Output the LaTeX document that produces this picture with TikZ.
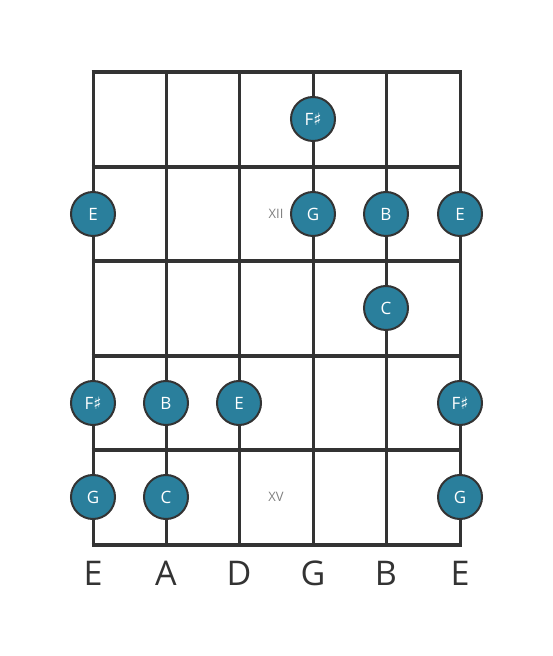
\documentclass[tikz,border=0pt]{standalone}
\usepackage{fontspec}
\setmainfont{Open Sans}
\newfontfamily\symfont{DejaVu Sans}
\definecolor{dotfill}{HTML}{2A7F9C}
\definecolor{ink}{HTML}{333333}
\newcommand{\shp}{{\symfont\char"266F}}
\tikzset{
  fretline/.style={line width=4.5pt,color=ink},
  stringline/.style={line width=3pt,color=ink},
  notedot/.style={circle,draw=ink,line width=2pt,fill=dotfill,minimum size=44pt,inner sep=0pt,
    text=white,font=\fontsize{17}{17}\selectfont},
  fretnum/.style={text=gray,font=\fontsize{13}{13}\selectfont},
  stringname/.style={text=ink,font=\fontsize{34}{34}\selectfont}
}
\begin{document}
\begin{tikzpicture}[x=1pt,y=1pt]
		\useasboundingbox (0,0) rectangle (553,656);
		% strings
		\draw[stringline] (93,584) -- (93,111);
		\draw[stringline] (166,584) -- (166,111);
		\draw[stringline] (239,584) -- (239,111);
		\draw[stringline] (313,584) -- (313,111);
		\draw[stringline] (386,584) -- (386,111);
		\draw[stringline] (460,584) -- (460,111);
		% frets
		\draw[fretline] (91.5,584) -- (461.5,584);
		\draw[fretline] (91.5,489) -- (461.5,489);
		\draw[fretline] (91.5,395) -- (461.5,395);
		\draw[fretline] (91.5,300) -- (461.5,300);
		\draw[fretline] (91.5,206) -- (461.5,206);
		\draw[fretline] (91.5,111) -- (461.5,111);
		% fret numbers
		\node[fretnum] (xii) at (276,442) {XII};
		\node[fretnum] (xv) at (276,159) {XV};
		% first row
		\node[notedot] (fsharpG) at (313,537) {F\shp};
		% second row
		\node[notedot] (eLow) at (93,442) {E};
		\node[notedot] (gG) at (313,442) {G};
		\node[notedot] (bB) at (386,442) {B};
		\node[notedot] (eHigh) at (460,442) {E};
		% third row
		\node[notedot] (cB) at (386,348) {C};
		% fourth row
		\node[notedot] (fsharpLow) at (93,253) {F\shp};
		\node[notedot] (bA) at (166,253) {B};
		\node[notedot] (eD) at (239,253) {E};
		\node[notedot] (fsharpHigh) at (460,253) {F\shp};
		% fifth row
		\node[notedot] (gLow) at (93,159) {G};
		\node[notedot] (cA) at (166,159) {C};
		\node[notedot] (gHigh) at (460,159) {G};
		% string names
		\node[stringname] (sE) at (93,83) {E};
		\node[stringname] (sA) at (166,83) {A};
		\node[stringname] (sD) at (239,83) {D};
		\node[stringname] (sG) at (313,83) {G};
		\node[stringname] (sB) at (386,83) {B};
		\node[stringname] (sEE) at (460,83) {E};
	\end{tikzpicture}
\end{document}
